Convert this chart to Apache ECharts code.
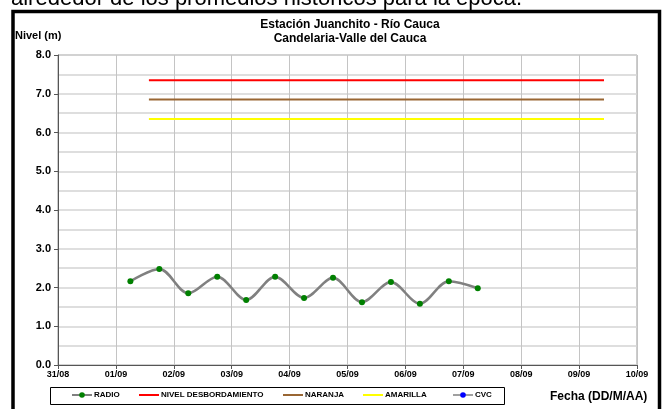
<!DOCTYPE html>
<html>
<head>
<meta charset="utf-8">
<script src="https://cdn.jsdelivr.net/npm/echarts@6/dist/echarts.min.js"></script>
<style>
  html, body { margin: 0; padding: 0; background: #fff; }
  #chart { width: 667px; height: 409px; }
</style>
</head>
<body>
<div id="chart"></div>
<script>
// etiquetas del eje x (dias desde 31/08)
var fechasEje = ["31/08", "01/09", "02/09", "03/09", "04/09", "05/09", "06/09", "07/09", "08/09", "09/09", "10/09"];
// lecturas RADIO cada 12 h (dias desde 31/08 00:00)
var diasRadio = [1.25, 1.75, 2.25, 2.75, 3.25, 3.75, 4.25, 4.75, 5.25, 5.75, 6.25, 6.75, 7.25];
var nivelRadio = [2.16, 2.48, 1.85, 2.28, 1.68, 2.28, 1.73, 2.25, 1.62, 2.14, 1.58, 2.16, 1.98];
// umbrales
var diasUmbral = [1.57, 9.43];
var nivelDesbordamiento = 7.35;
var nivelNaranja = 6.85;
var nivelAmarilla = 6.35;
var datosCVC = [];

var fuente = "Arial, 'Liberation Sans', sans-serif";

function pares(xs, ys) {
    return xs.map(function(x, i) { return [x, ys[i]]; });
}
function linea(v) {
    return diasUmbral.map(function(d) { return [d, v]; });
}

var myChart = echarts.init(document.getElementById("chart"));

var legendas = [
    { name: "RADIO", left: 71, icon: null },
    { name: "NIVEL DESBORDAMIENTO", left: 139, icon: "rect" },
    { name: "NARANJA", left: 283, icon: "rect" },
    { name: "AMARILLA", left: 363, icon: "rect" },
    { name: "CVC", left: 452, icon: null }
].map(function(l) {
    var leg = {
        data: [l.name],
        left: l.left,
        top: 391,
        padding: 0,
        itemWidth: 20,
        itemHeight: l.icon ? 2 : 7,
        itemGap: 0,
        textStyle: { fontFamily: fuente, fontSize: 8, fontWeight: "bold", color: "#000", padding: [0, 0, 0, -3] }
    };
    if (l.icon) leg.icon = l.icon;
    return leg;
});

var option = {
    backgroundColor: "#fff",
    animation: false,
    title: {
        text: "Estación Juanchito - Río Cauca\nCandelaria-Valle del Cauca",
        left: 345,
        textAlign: "center",
        top: 13,
        textStyle: { fontFamily: fuente, fontSize: 12, fontWeight: "bold", color: "#000", lineHeight: 14 }
    },
    legend: legendas,
    grid: {
        left: 58,
        right: 30,
        top: 55,
        bottom: 44,
        show: true,
        borderColor: "#999",
        borderWidth: 1
    },
    xAxis: {
        type: "value",
        min: 0,
        max: 10,
        interval: 1,
        axisLine: { lineStyle: { color: "#555", width: 1 } },
        axisTick: { show: true, length: 4, lineStyle: { color: "#555" } },
        axisLabel: {
            fontFamily: fuente,
            fontSize: 9,
            fontWeight: "bold",
            color: "#000",
            margin: 5,
            formatter: function(v) { return fechasEje[Math.round(v)]; }
        },
        splitLine: { show: true, lineStyle: { color: "#c4c4c4", width: 1 } }
    },
    yAxis: {
        type: "value",
        min: 0,
        max: 8,
        interval: 1,
        axisLine: { show: true, lineStyle: { color: "#555", width: 1 } },
        axisTick: { show: true, length: 4, lineStyle: { color: "#555" } },
        axisLabel: {
            fontFamily: fuente,
            fontSize: 11,
            fontWeight: "bold",
            color: "#000",
            margin: 7,
            formatter: function(v) { return v.toFixed(1); }
        },
        splitLine: { show: true, lineStyle: { color: "#d4d4d4", width: 1.5 } },
        minorTick: { show: false, splitNumber: 2 },
        minorSplitLine: { show: true, lineStyle: { color: "#d4d4d4", width: 1.5 } }
    },
    graphic: [
        {
            type: "text",
            left: 11,
            top: -12,
            style: { text: "alrededor de los promedios históricos para la época.", font: "22px Arial, 'Liberation Sans', sans-serif", fill: "#000" }
        },
        {
            type: "rect",
            shape: { x: 13, y: 11.5, width: 646.5, height: 420 },
            style: { fill: "none", stroke: "#000", lineWidth: 3.5 },
            z: 100
        },
        {
            type: "text",
            left: 15,
            top: 30,
            style: { text: "Nivel (m)", font: "bold 11px Arial, 'Liberation Sans', sans-serif", fill: "#000" }
        },
        {
            type: "rect",
            shape: { x: 50.5, y: 387.5, width: 454, height: 17 },
            style: { fill: "none", stroke: "#000", lineWidth: 1 }
        },
        {
            type: "text",
            left: 550,
            top: 391,
            style: { text: "Fecha (DD/M/AA)", font: "bold 12px Arial, 'Liberation Sans', sans-serif", fill: "#000" }
        }
    ],
    series: [
        {
            name: "RADIO",
            type: "line",
            data: pares(diasRadio, nivelRadio),
            smooth: 0.33,
            symbol: "circle",
            symbolSize: 6,
            lineStyle: { color: "#808080", width: 2.5 },
            itemStyle: { color: "#008000" },
            z: 5
        },
        {
            name: "NIVEL DESBORDAMIENTO",
            type: "line",
            data: linea(nivelDesbordamiento),
            symbol: "none",
            lineStyle: { color: "#ff0000", width: 2 },
            itemStyle: { color: "#ff0000" }
        },
        {
            name: "NARANJA",
            type: "line",
            data: linea(nivelNaranja),
            symbol: "none",
            lineStyle: { color: "#996633", width: 2 },
            itemStyle: { color: "#996633" }
        },
        {
            name: "AMARILLA",
            type: "line",
            data: linea(nivelAmarilla),
            symbol: "none",
            lineStyle: { color: "#ffff00", width: 2 },
            itemStyle: { color: "#ffff00" }
        },
        {
            name: "CVC",
            type: "line",
            data: datosCVC,
            symbol: "circle",
            symbolSize: 4,
            lineStyle: { color: "#a0a0a0", width: 2.5 },
            itemStyle: { color: "#0000ff" }
        }
    ]
};

myChart.setOption(option);
</script>
</body>
</html>
